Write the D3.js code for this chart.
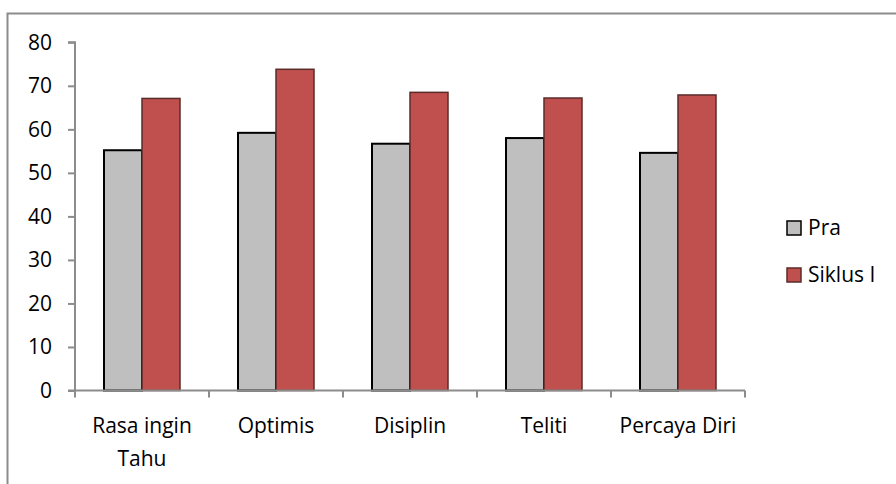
<!DOCTYPE html>
<html>
<head>
<meta charset="utf-8">
<script src="https://cdn.jsdelivr.net/npm/d3@7"></script>
<style>
  html, body { margin: 0; padding: 0; background: #fff; }
  svg { display: block; font-family: "Open Sans", "Noto Sans", sans-serif; }
</style>
</head>
<body>
<svg id="chart" width="896" height="484"></svg>
<script>
// Character scores per aspect, before action (Pra) and after cycle I
const categories = ["Rasa ingin Tahu", "Optimis", "Disiplin", "Teliti", "Percaya Diri"];
const categoryLines = [["Rasa ingin", "Tahu"], ["Optimis"], ["Disiplin"], ["Teliti"], ["Percaya Diri"]];
const seriesNames = ["Pra", "Siklus I"];
const praValues = [55.2, 59.2, 56.7, 58.0, 54.6];
const siklusValues = [67.1, 73.8, 68.5, 67.2, 67.9];
const yTicks = [0, 10, 20, 30, 40, 50, 60, 70, 80];

const fills = ["#BFBFBF", "#C0504D"];
const strokes = ["#000000", "#5b2c2a"];
const axisColor = "#8c8c8c";
const fontSize = 21;

const svg = d3.select("#chart");

// outer frame (runs past the right and bottom edges)
svg.append("rect")
  .attr("x", 7.5).attr("y", 13.5)
  .attr("width", 920).attr("height", 500)
  .attr("fill", "#fff").attr("stroke", axisColor).attr("stroke-width", 2);

const x0 = 75, x1 = 745, yTop = 42.3, yBase = 390.5;

const x = d3.scaleBand().domain(categories).range([x0, x1]).paddingInner(0).paddingOuter(0);
const y = d3.scaleLinear().domain([0, 80]).range([yBase, yTop]);

const barW = 38;
const rows = categories.map((c, i) => ({ cat: c, vals: [praValues[i], siklusValues[i]] }));

const g = svg.append("g");
rows.forEach(r => {
  const cx = x(r.cat) + x.bandwidth() / 2;
  r.vals.forEach((v, s) => {
    g.append("rect")
      .attr("x", cx - barW + s * barW).attr("y", y(v))
      .attr("width", barW).attr("height", y(0) - y(v))
      .attr("fill", fills[s])
      .attr("stroke", strokes[s])
      .attr("stroke-width", s === 0 ? 2 : 1.5);
  });
});

// y axis
const yAxis = d3.axisLeft(y).tickValues(yTicks).tickSize(7).tickPadding(16);
const ya = svg.append("g").attr("transform", `translate(${x0},0)`).call(yAxis);
ya.select(".domain").attr("stroke", axisColor).attr("stroke-width", 2)
  .attr("d", `M-7,${yTop}H0V${yBase}`);
ya.selectAll(".tick line").attr("stroke", axisColor).attr("stroke-width", 2);
ya.selectAll(".tick text")
  .attr("font-size", fontSize).attr("fill", "#000")
  .attr("font-family", "'Open Sans', 'Noto Sans', sans-serif")
  .attr("x", -23);

// x axis with boundary ticks between categories
const bounds = categories.map(c => x(c)).concat([x1]);
svg.append("line")
  .attr("x1", x0 - 7).attr("x2", x1).attr("y1", yBase).attr("y2", yBase)
  .attr("stroke", axisColor).attr("stroke-width", 2);
svg.selectAll(".xtick").data(bounds).enter().append("line")
  .attr("x1", d => d).attr("x2", d => d)
  .attr("y1", yBase).attr("y2", yBase + 7)
  .attr("stroke", axisColor).attr("stroke-width", 2);

// category labels
categories.forEach((c, i) => {
  const cx = x(c) + x.bandwidth() / 2;
  const t = svg.append("text")
    .attr("x", cx).attr("y", 433)
    .attr("text-anchor", "middle")
    .attr("font-size", fontSize).attr("fill", "#000");
  categoryLines[i].forEach((line, k) => {
    t.append("tspan").attr("x", cx).attr("dy", k === 0 ? 0 : 33).text(line);
  });
});

// legend
const legend = svg.append("g");
seriesNames.forEach((n, s) => {
  const ly = 221 + s * 47;
  legend.append("rect")
    .attr("x", 787).attr("y", ly).attr("width", 14).attr("height", 14)
    .attr("fill", fills[s]).attr("stroke", strokes[s]).attr("stroke-width", 1.5);
  legend.append("text")
    .attr("x", 808).attr("y", ly + 14)
    .attr("font-size", fontSize).attr("fill", "#000").text(n);
});
</script>
</body>
</html>
